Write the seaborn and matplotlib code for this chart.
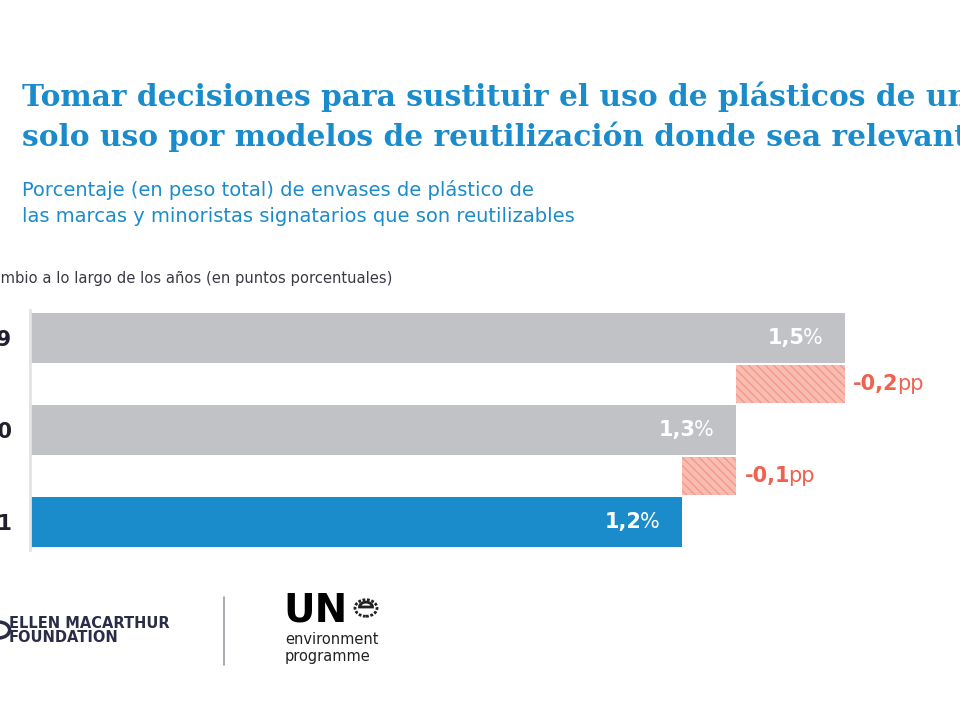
import pandas as pd
import seaborn as sns
import matplotlib.pyplot as plt
from matplotlib.patches import Circle, Wedge
from matplotlib.lines import Line2D

# datos
years = ["2019", "2020", "2021"]
values = [1.5, 1.3, 1.2]
value_labels = ["1,5", "1,3", "1,2"]
deltas = [-0.2, -0.1]
delta_labels = ["-0,2", "-0,1"]
row_order = ["2019", " ", "2020", "  ", "2021"]

GRAY = "#c1c2c6"
BLUE = "#1b8ccb"
SALMON = "#f0614f"
PINK = "#f9bcb1"
HATCH = "#f2998a"
bar_colors = {"2019": GRAY, "2020": GRAY, "2021": BLUE}

sns.set_theme(style="white")
plt.rcParams["font.family"] = ["DejaVu Sans"]
plt.rcParams["hatch.linewidth"] = 1.0

df = pd.DataFrame({"year": years, "value": values})

W, H = 960, 720
fig = plt.figure(figsize=(9.6, 7.2), dpi=100)
# eje: x 30..960 px, filas centradas en 338 + 46*i
ax = fig.add_axes([30 / W, 1 - 549.6 / H, 930 / W, 239.2 / H])

sns.barplot(data=df, y="year", x="value", hue="year", palette=bar_colors,
            order=row_order, orient="h", width=1.087, legend=False,
            saturation=1, ax=ax, linewidth=0)

# barras de cambio (rayadas)
for i, d in enumerate(deltas):
    ax.barh(2 * i + 1, -d, left=values[i + 1], height=0.83, color=PINK,
            edgecolor=HATCH, hatch="\\\\\\\\", linewidth=0)

ax.set_xlim(0, 1.5 * 930 / 815)
ax.set_ylim(4.6, -0.6)
ax.set_xlabel("")
ax.set_ylabel("")
ax.set_xticks([])
for s in ["top", "right", "bottom"]:
    ax.spines[s].set_visible(False)
ax.spines["left"].set_color("#e3e3e5")
ax.spines["left"].set_linewidth(2)
ax.tick_params(axis="y", length=0, pad=13)
for lbl in ax.get_yticklabels():
    lbl.set_fontweight("bold")
    lbl.set_fontsize(15)
    lbl.set_color("#1f1f2e")

# etiquetas de valores
for i, (v, lab) in enumerate(zip(values, value_labels)):
    pct = ax.annotate("%", xy=(v, 2 * i), xytext=(-16, 0),
                      textcoords="offset points", ha="right", va="center",
                      color="white", fontsize=15)
    ax.annotate(lab, xy=(0, 0.5), xycoords=pct, xytext=(1, 0),
                textcoords="offset points", ha="right", va="center",
                color="white", fontsize=15, fontweight="bold")

for i, (v, lab) in enumerate(zip(values[:-1], delta_labels)):
    t = ax.annotate(lab, xy=(v, 2 * i + 1), xytext=(6, 0),
                    textcoords="offset points", ha="left", va="center",
                    color=SALMON, fontsize=15, fontweight="bold")
    ax.annotate("pp", xy=(1, 0.5), xycoords=t, xytext=(-1.5, 0),
                textcoords="offset points", ha="left", va="center",
                color=SALMON, fontsize=15)

# textos
fig.text(22 / W, 1 - 97 / H,
         "Tomar decisiones para sustituir el uso de plásticos de un",
         color=BLUE, fontsize=21.3, fontweight="bold", family="DejaVu Serif",
         va="center", ha="left")
fig.text(22 / W, 1 - 137 / H,
         "solo uso por modelos de reutilización donde sea relevante",
         color=BLUE, fontsize=21.3, fontweight="bold", family="DejaVu Serif",
         va="center", ha="left")
fig.text(22 / W, 1 - 190 / H,
         "Porcentaje (en peso total) de envases de plástico de",
         color=BLUE, fontsize=14, va="center", ha="left")
fig.text(22 / W, 1 - 216 / H,
         "las marcas y minoristas signatarios que son reutilizables",
         color=BLUE, fontsize=14, va="center", ha="left")
fig.text(392 / W, 1 - 278 / H,
         "Cambio a lo largo de los años (en puntos porcentuales)",
         color="#3a3a45", fontsize=10.6, va="center", ha="right")

# logos
NAVY = "#2b2d48"
fig.patches.append(Circle((-1 / W, 1 - 630 / H), 0.011, transform=fig.transFigure,
                          facecolor="none", edgecolor=NAVY, lw=2.5))
fig.text(9 / W, 1 - 623 / H, "ELLEN MACARTHUR", color=NAVY, fontsize=10.5,
         fontweight="heavy", va="center", ha="left")
fig.text(9 / W, 1 - 637 / H, "FOUNDATION", color=NAVY, fontsize=10.5,
         fontweight="heavy", va="center", ha="left")
fig.lines.append(Line2D([224 / W, 224 / W], [1 - 597 / H, 1 - 665 / H],
                        transform=fig.transFigure, color="#9c9ca4", lw=1.2))
fig.text(283 / W, 1 - 611 / H, "UN", color="black", fontsize=28,
         fontweight="bold", va="center", ha="left")
fig.patches.append(Circle((366 / W, 1 - 608 / H), 11 / W,
                          transform=fig.transFigure, facecolor="none",
                          edgecolor="#222222", lw=2, linestyle=(0, (1, 0.6))))
fig.patches.append(Wedge((366 / W, 1 - 607 / H), 6.5 / W, 0, 180,
                         transform=fig.transFigure, facecolor="none",
                         edgecolor="#222222", lw=2))
fig.text(285 / W, 1 - 639 / H, "environment", color="#222222", fontsize=10.5,
         va="center", ha="left")
fig.text(285 / W, 1 - 657 / H, "programme", color="#222222", fontsize=10.5,
         va="center", ha="left")

fig.savefig("out.png", dpi=100)
